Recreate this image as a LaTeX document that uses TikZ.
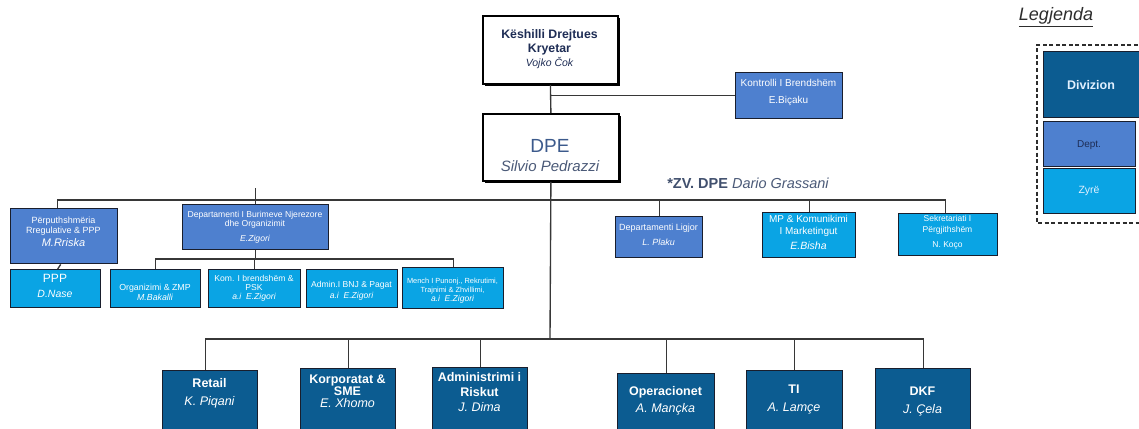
\documentclass[tikz,border=0pt]{standalone}
\usepackage{fontspec}
\setmainfont{Liberation Sans}
\usetikzlibrary{shadows}
\definecolor{divc}{RGB}{12,92,145}
\definecolor{deptc}{RGB}{78,128,207}
\definecolor{zyrec}{RGB}{10,164,228}
\definecolor{edgec}{RGB}{25,30,45}
\definecolor{linec}{RGB}{55,55,55}
\definecolor{navy}{RGB}{30,45,85}
\definecolor{dpec}{RGB}{60,90,140}
\definecolor{dpename}{RGB}{75,90,120}
\definecolor{zvc}{RGB}{65,80,110}
\definecolor{legc}{RGB}{45,45,45}
\tikzset{
  x=1pt, y=-1pt,
  box/.style={draw=edgec, line width=1.4pt, inner sep=0pt, anchor=north west},
  divbox/.style={box, fill=divc},
  deptbox/.style={box, fill=deptc},
  zyrebox/.style={box, fill=zyrec},
  topbox/.style={box, fill=white, draw=black, line width=1.8pt,
    drop shadow={shadow xshift=2.2pt, shadow yshift=-2.2pt, fill=black, opacity=1}},
  boxtext/.style={inner sep=0pt, align=center, text=white},
  conn/.style={draw=linec, line width=1.35pt},
}
\newcommand\fs[2]{\fontsize{#1}{#2}\selectfont}
% style, name, x1, y1, x2, y2, text-y, text-style, text
\newcommand\obox[9]{%
  \node[#1, minimum width={(#5-#3)*1pt}, minimum height={(#6-#4)*1pt}] (#2) at (#3,#4) {};
  \node[boxtext, #8] (#2-t) at ({(#3+#5)/2},#7) {#9};}
\begin{document}
\begin{tikzpicture}
\useasboundingbox (0,0) rectangle (1139,428);
\fill[white] (0,0) rectangle (1139,428);
\clip (0,0) rectangle (1139,428);

% top
\obox{topbox}{ksh}{482}{15}{617}{83}{49}{text=navy, font=\bfseries\fs{12.3}{14}}
  {Këshilli Drejtues\\Kryetar\\{\mdseries\itshape\fs{10.5}{14}Vojko Čok}}
\obox{deptbox}{kon}{735}{72}{842}{118}{92.5}{font=\fs{10}{12}}
  {Kontrolli I Brendshëm\\[5pt]E.Biçaku}
\obox{topbox}{dpe}{482}{113}{618}{180}{156}{text=dpec, font=\fs{19}{19}}
  {DPE\\{\itshape\color{dpename}\fs{15}{18}Silvio Pedrazzi}}
\node[inner sep=0pt, font=\fs{14.5}{16}, text=zvc] (zv) at (748,183)
  {\textbf{*ZV. DPE} {\itshape\color{dpename}Dario Grassani}};

% second row
\obox{deptbox}{perp}{10}{208}{117}{263}{231.5}{font=\fs{9}{10}}
  {Përputhshmëria\\Rregulative \& PPP\\[3pt]{\itshape\fs{11}{12}M.Rriska}}
\obox{deptbox}{dbnj}{182}{204}{328}{249}{227.5}{font=\fs{8.6}{9}}
  {Departamenti I Burimeve Njerezore\\dhe Organizimit\\[6pt]{\itshape E.Zigori}}
\obox{deptbox}{lig}{615}{216}{702}{257}{235}{font=\fs{9}{10}}
  {Departamenti Ligjor\\[5pt]{\itshape L. Plaku}}
\obox{zyrebox}{mp}{762}{212}{855}{257}{232.5}{font=\fs{10}{12}}
  {MP \& Komunikimi\\I Marketingut\\[3pt]{\itshape\fs{10.5}{12}E.Bisha}}
\obox{zyrebox}{sek}{898}{213}{997}{255}{232.5}{font=\fs{8.5}{11}}
  {Sekretariati I\\Përgjithshëm\\[4pt]N. Koço}

% third row
\obox{zyrebox}{ppp}{10}{269}{100}{307}{286}{font=\fs{12}{14}}
  {PPP\\[1pt]{\itshape\fs{10.5}{12}D.Nase}}
\obox{zyrebox}{org}{110}{269}{200}{307}{292}{font=\fs{8.8}{10}}
  {Organizimi \& ZMP\\{\itshape M.Bakalli}}
\obox{zyrebox}{kom}{208}{269}{300}{307}{288}{font=\fs{8.6}{9}}
  {Kom. I brendshëm \&\\PSK\\{\itshape a.i\ \ E.Zigori}}
\obox{zyrebox}{adm}{306}{269}{397}{307}{290.5}{font=\fs{8.6}{11}}
  {Admin.I BNJ \& Pagat\\{\itshape a.i\ \ E.Zigori}}
\obox{zyrebox}{mer}{402}{267}{503}{308}{291}{font=\fs{7.4}{9}}
  {Mench I Punonj., Rekrutimi,\\Trajnimi \& Zhvillimi,\\{\itshape\fs{8.5}{10}a.i\ \ E.Zigori}}

% bottom row
\obox{divbox}{retail}{162}{370}{257}{445}{393}{font=\bfseries\fs{12.5}{18}}
  {Retail\\{\mdseries\itshape K. Piqani}}
\obox{divbox}{korp}{300}{368}{395}{445}{391.5}{font=\bfseries\fs{12.5}{11.5}}
  {Korporatat \&\\SME\\[1pt]{\mdseries\itshape E. Xhomo}}
\obox{divbox}{adr}{432}{367}{527}{445}{392}{font=\bfseries\fs{12.5}{15}}
  {Administrimi i\\Riskut\\{\mdseries\itshape J. Dima}}
\obox{divbox}{oper}{617}{373}{714}{445}{400.5}{font=\bfseries\fs{12.5}{17}}
  {Operacionet\\{\mdseries\itshape A. Mançka}}
\obox{divbox}{ti}{746}{370}{842}{445}{399}{font=\bfseries\fs{12.5}{18}}
  {TI\\{\mdseries\itshape A. Lamçe}}
\obox{divbox}{dkf}{875}{368}{970}{445}{401}{font=\bfseries\fs{12.5}{18}}
  {DKF\\{\mdseries\itshape J. Çela}}

% legend
\node[inner sep=0pt, font=\itshape\fs{18}{20}, text=legc] (legj) at (1056,17) {\underline{Legjenda}};
\draw[draw=legc, line width=1.1pt, dash pattern=on 4pt off 2.5pt] (1170,45) -- (1037,45) -- (1037,223) -- (1170,223);
\node[divbox, minimum width=110pt, minimum height=66pt] (ldiv) at (1043,51) {};
\node[boxtext, text={rgb,255:red,225;green,240;blue,255}, font=\bfseries\fs{12.5}{14}] (ldiv-t) at (1091,85) {Divizion};
\obox{deptbox}{ldept}{1043}{121}{1135}{166}{145}{text=navy, font=\fs{10}{12}}{Dept.}
\obox{zyrebox}{lzyre}{1043}{168}{1135}{213}{191}{text={rgb,255:red,225;green,240;blue,255}, font=\fs{10.5}{12}}{Zyrë}

% connectors
\coordinate (hbar) at (550,200);
\coordinate (bbar) at (550,339);
\coordinate (sbar) at (257,259);
\draw[conn] (ksh.south) -- (dpe.north);
\draw[conn] (ksh.south |- kon.west) -- (kon.west);
\draw[conn] (dpe.south) -- (bbar);
\draw[conn] ([xshift=-6.5pt]perp.north) |- (hbar) -| ([xshift=-2.5pt]sek.north);
\draw[conn] (dbnj.north) -- ([yshift=12pt]dbnj.north |- hbar);
\draw[conn] (lig.north) -- (lig.north |- hbar);
\draw[conn] (mp.north) -- (mp.north |- hbar);
\draw[conn] ([xshift=-3.5pt]perp.south) -- ([xshift=2pt]ppp.north);
\draw[conn] (dbnj.south) -- (dbnj.south |- sbar);
\draw[conn] (org.north) |- (sbar) -| (mer.north);
\draw[conn] (kom.north) -- (kom.north |- sbar);
\draw[conn] ([xshift=-4.5pt]retail.north) |- (bbar) -| (dkf.north);
\draw[conn] (korp.north) -- (korp.north |- bbar);
\draw[conn] (adr.north) -- (adr.north |- bbar);
\draw[conn] (oper.north) -- (oper.north |- bbar);
\draw[conn] (ti.north) -- (ti.north |- bbar);
\end{tikzpicture}
\end{document}
